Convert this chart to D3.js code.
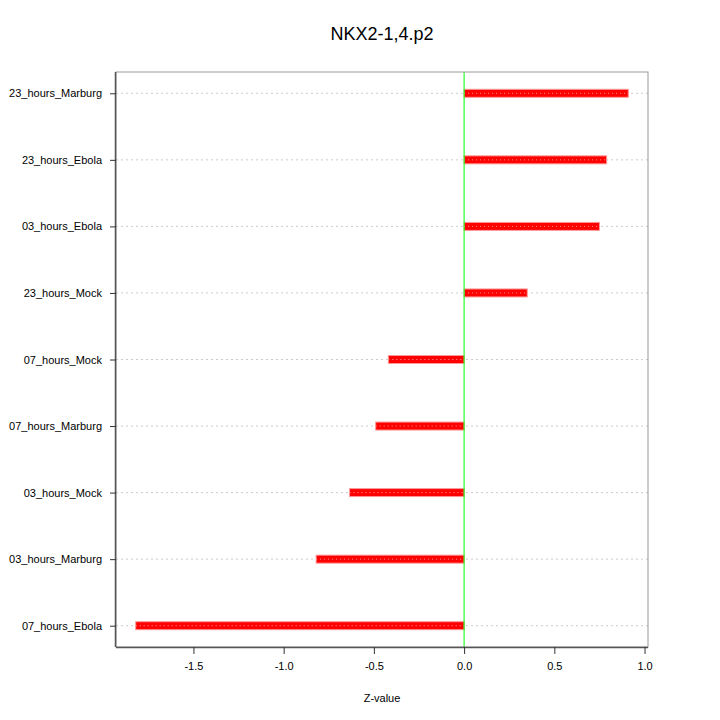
<!DOCTYPE html>
<html>
<head>
<meta charset="utf-8">
<script src="https://cdn.jsdelivr.net/npm/d3@7"></script>
<style>
  body { margin: 0; background: #fff; }
  text { font-family: "Liberation Sans", Arial, sans-serif; }
</style>
</head>
<body>
<div class="chart"></div>
<script>
var categories = ['07_hours_Ebola', '03_hours_Marburg', '03_hours_Mock', '07_hours_Marburg',
  '07_hours_Mock', '23_hours_Mock', '03_hours_Ebola', '23_hours_Ebola', '23_hours_Marburg'];
var zvalues = [-1.82, -0.82, -0.635, -0.49, -0.42, 0.35, 0.75, 0.79, 0.91];
var xTicks = [-1.5, -1.0, -0.5, 0.0, 0.5, 1.0];

var width = 720, height = 720;
var plotLeft = 116, plotRight = 648, plotTop = 72, plotBottom = 647;

var svg = d3.select('.chart').append('svg').attr('width', width).attr('height', height);

var x = d3.scaleLinear().domain([-1.9292, 1.0192]).range([plotLeft, plotRight]);
var y = d3.scaleLinear().domain([0.68, 9.32]).range([plotBottom, plotTop]);

// grid lines
svg.selectAll('.grid').data(categories).enter().append('line')
  .attr('x1', plotLeft).attr('x2', plotRight)
  .attr('y1', function (d, i) { return y(i + 1); })
  .attr('y2', function (d, i) { return y(i + 1); })
  .attr('stroke', '#cccccc').attr('stroke-dasharray', '2,3');

// bars
svg.selectAll('.bar').data(zvalues).enter().append('rect')
  .attr('x', function (d) { return Math.min(x(0), x(d)); })
  .attr('width', function (d) { return Math.abs(x(d) - x(0)); })
  .attr('y', function (d, i) { return y(i + 1) - 4; })
  .attr('height', 8)
  .attr('fill', '#ff0000').attr('stroke', '#ff9999').attr('stroke-width', 1);

svg.selectAll('.bardot').data(zvalues).enter().append('line')
  .attr('x1', function (d) { return Math.min(x(0), x(d)); })
  .attr('x2', function (d) { return Math.max(x(0), x(d)); })
  .attr('y1', function (d, i) { return y(i + 1); })
  .attr('y2', function (d, i) { return y(i + 1); })
  .attr('stroke', '#ff9999').attr('stroke-width', 1).attr('stroke-dasharray', '1,3');

// zero line
svg.append('line').attr('x1', x(0)).attr('x2', x(0)).attr('y1', plotTop).attr('y2', plotBottom)
  .attr('stroke', '#00ff00').attr('stroke-width', 1);

// box
svg.append('rect').attr('x', plotLeft).attr('y', plotTop).attr('width', plotRight - plotLeft).attr('height', plotBottom - plotTop)
  .attr('fill', 'none').attr('stroke', '#999999');

// axes
var xAxis = d3.axisBottom(x).tickValues(xTicks).tickSize(7).tickPadding(8)
  .tickFormat(function (d) { return d3.format('.1f')(d).replace('\u2212', '-'); });
var gx = svg.append('g').attr('transform', 'translate(0,' + plotBottom + ')').call(xAxis);
gx.select('.domain').attr('d', 'M' + plotLeft + ',0.5H' + plotRight).attr('stroke', '#555555').attr('stroke-width', 1.5);
gx.selectAll('.tick line').attr('stroke', '#333');
gx.selectAll('text').attr('font-size', 11).attr('fill', '#000');

var yAxis = d3.axisLeft(y).tickValues(d3.range(1, categories.length + 1)).tickSize(6).tickPadding(8)
  .tickFormat(function (d) { return categories[d - 1]; });
var gy = svg.append('g').attr('transform', 'translate(' + plotLeft + ',0)').call(yAxis);
gy.select('.domain').attr('d', 'M-0.5,' + plotTop + 'V' + plotBottom).attr('stroke', '#555555').attr('stroke-width', 1.5);
gy.selectAll('.tick line').attr('stroke', '#333');
gy.selectAll('text').attr('font-size', 11).attr('fill', '#000');

// title and label
svg.append('text').attr('x', (plotLeft + plotRight) / 2).attr('y', 40).attr('text-anchor', 'middle')
  .attr('font-size', 18).text('NKX2-1,4.p2');
svg.append('text').attr('x', (plotLeft + plotRight) / 2).attr('y', 702).attr('text-anchor', 'middle')
  .attr('font-size', 11).text('Z-value');
</script>
</body>
</html>
